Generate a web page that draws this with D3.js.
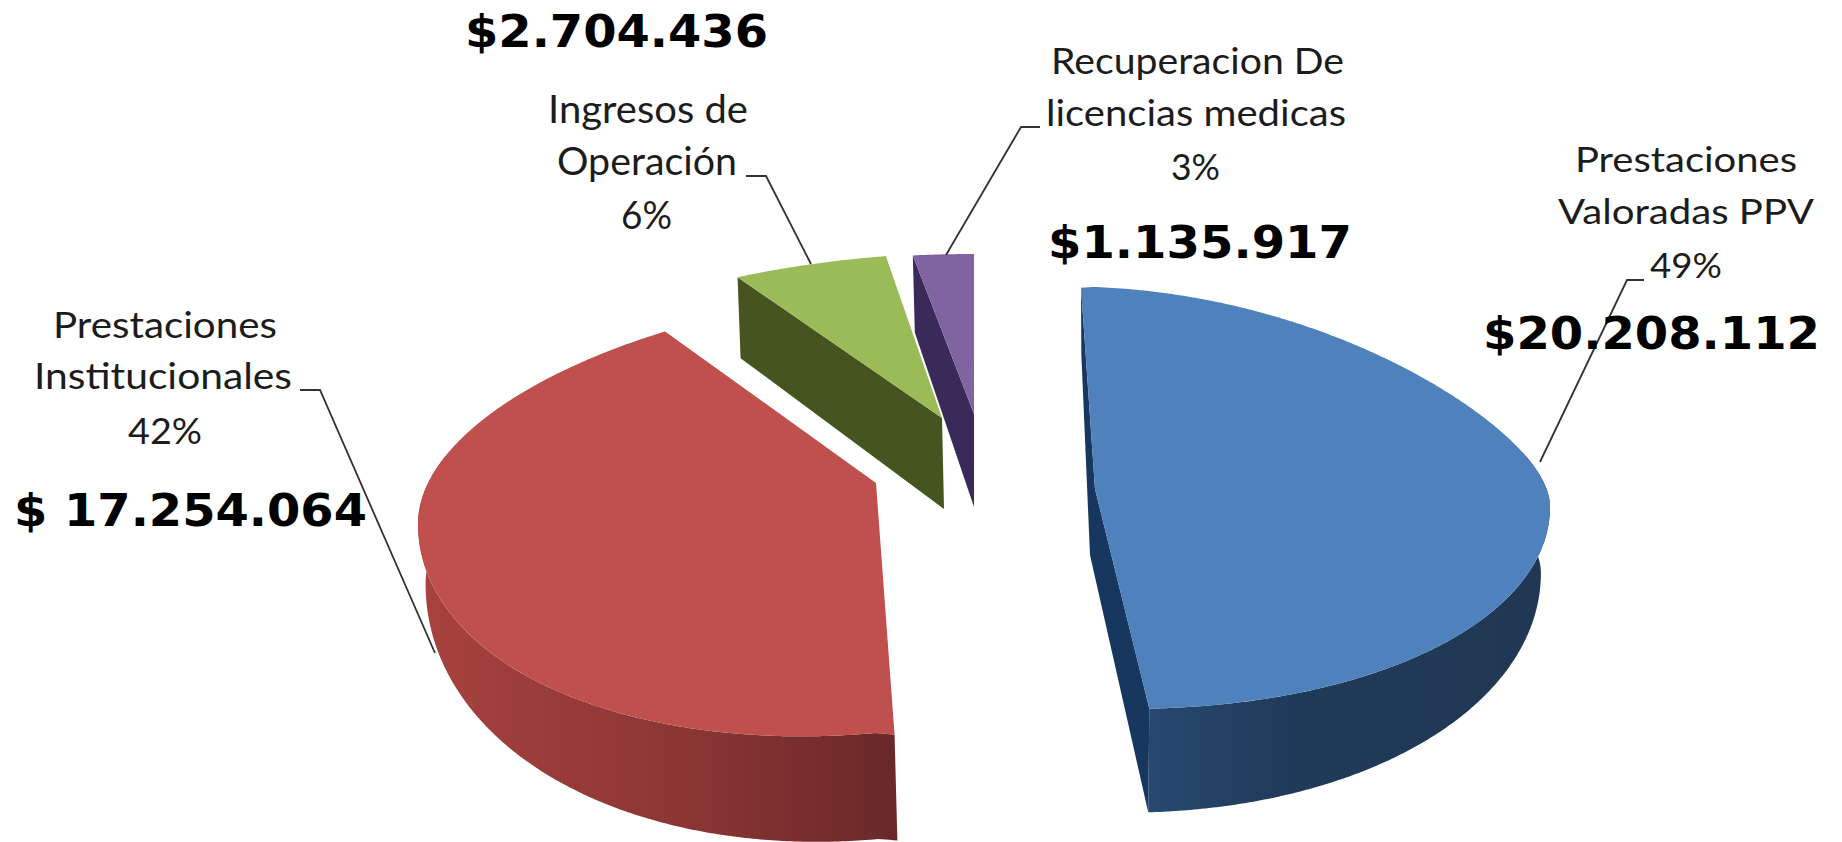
<!DOCTYPE html>
<html>
<head>
<meta charset="utf-8">
<script src="https://cdnjs.cloudflare.com/ajax/libs/d3/7.8.5/d3.min.js"></script>
<style>
html,body{margin:0;padding:0;background:#fff}
svg{display:block}
</style>
</head>
<body>
<svg id="c" width="1842" height="842"></svg>
<script>
// ---- data ----
const categories = ["Prestaciones Valoradas PPV", "Prestaciones Institucionales", "Ingresos de Operación", "Recuperacion De licencias medicas"];
const values = [20208112, 17254064, 2704436, 1135917];
const percentLabels = ["49%", "42%", "6%", "3%"];
const valueLabels = ["$20.208.112", "$ 17.254.064", "$2.704.436", "$1.135.917"];
const nameLines = [["Prestaciones", "Valoradas PPV"], ["Prestaciones", "Institucionales"], ["Ingresos de", "Operación"], ["Recuperacion De", "licencias medicas"]];

// ---- styling ----
const topColors = ["#4f81bd", "#c0504d", "#9bbb59", "#8064a2"];
const innerWallColors = ["#17375e", "#7a2c2a", "#46541f", "#3a2a59"];
const outerWallStops = [
  [["0%", "#27496f"], ["35%", "#203a5a"], ["100%", "#203852"]],
  [["0%", "#a8423e"], ["55%", "#8b3634"], ["100%", "#692828"]],
  [["0%", "#46541f"], ["100%", "#46541f"]],
  [["0%", "#3a2a59"], ["100%", "#3a2a59"]]
];

// ---- 3D view of each exploded slice ----
const views = [
  {rot: 0,    stretch: .993, cx: 1095, cy: 489, rx: 455, up: 202, down: 219, drop: 18, flat: .3, back: 66, front: 104, rimScale: .98, shift: 0, apexX: -5, apexD: 66, walls: "both"},
  {rot: 3.3,  stretch: 1.03, cx: 876,  cy: 483, rx: 458, up: 192, down: 250, drop: 41, flat: 0,  back: 60, front: 106, rimScale: .99, shift: 3, apexX: 0,  apexD: 70, walls: "none"},
  {rot: 8.6,  stretch: .83,  cx: 942,  cy: 418, rx: 456, up: 165, down: 165, drop: 15, flat: 0,  back: 81, front: 81,  rimScale: 1,   shift: 3, apexX: 2,  apexD: 91, walls: "start"},
  {rot: 3.95, stretch: .78,  cx: 974,  cy: 414, rx: 456, up: 160, down: 160, drop: 0,  flat: 0,  back: 77, front: 77,  rimScale: 1,   shift: 2, apexX: 0,  apexD: 93, walls: "start"}
];
const drawOrder = [3, 2, 1, 0];

// ---- labels: [x start, baseline, width] per line, name lines then percent ----
const labelFonts = [35, 37, 38, 37];
const labelBoxes = [
  [[1575, 172, 222], [1558, 224, 256], [1650, 278, 72]],
  [[53, 338, 224], [34, 389, 258], [128, 444, 74]],
  [[548, 123, 200], [557, 175, 180], [621, 229, 51]],
  [[1051, 74, 293], [1046, 126, 300], [1171, 180, 49]]
];
const valueBoxes = [[1483, 349, 337], [14, 526, 353], [465, 47, 303], [1048, 258, 304]];
const leaders = [
  [[1644, 280], [1627, 280], [1540, 462]],
  [[300, 390], [320, 390], [435, 653]],
  [[746, 176], [766, 176], [811, 264]],
  [[1040, 127], [1021, 127], [946, 255]]
];

const svg = d3.select("#c");
const defs = svg.append("defs");

const pie = d3.pie().sort(null)
  .startAngle(-1.76 * Math.PI / 180)
  .endAngle((360 - 1.76) * Math.PI / 180);
const arcs = pie(values);

const line = d3.line();

function screenAngles(d, i) {
  const v = views[i];
  const a0 = d.startAngle + v.rot * Math.PI / 180;
  const a1 = a0 + (d.endAngle - d.startAngle) * v.stretch;
  return [a0, a1];
}
function topPoint(v, t) {
  const s = Math.sin(t), c = Math.cos(t);
  const rise = c > 0 ? v.up * c * ((1 - v.flat) + v.flat * Math.pow(c, 1.3)) : v.down * c;
  return [v.cx + v.rx * s, v.cy + v.drop * Math.abs(s) - rise];
}
function bottomPoint(v, t) {
  const s = Math.sin(t), c = Math.cos(t);
  const top = topPoint(v, t);
  return [v.cx + v.shift + v.rx * v.rimScale * s, top[1] + v.back + (v.front - v.back) * Math.max(0, -c)];
}
function sample(a0, a1) {
  const n = Math.max(2, Math.ceil(Math.abs(a1 - a0) / (Math.PI / 360)));
  return d3.range(n + 1).map(k => a0 + (a1 - a0) * k / n);
}

const gSlices = svg.append("g");
const gLeaders = svg.append("g");
const gText = svg.append("g");

drawOrder.forEach(i => {
  const d = arcs[i], v = views[i];
  const [a0, a1] = screenAngles(d, i);

  const gradId = "wall" + i;
  const grad = defs.append("linearGradient").attr("id", gradId)
    .attr("x1", "0%").attr("x2", "100%").attr("y1", "0%").attr("y2", "0%");
  outerWallStops[i].forEach(st => grad.append("stop").attr("offset", st[0]).attr("stop-color", st[1]));

  const g = gSlices.append("g").attr("class", "slice");

  // outer wall
  const wa = Math.max(a0, Math.PI * 70 / 180), wb = Math.min(a1, Math.PI * 290 / 180);
  if (wb > wa) {
    const ts = sample(wa, wb);
    const pts = ts.map(t => topPoint(v, t)).concat(ts.slice().reverse().map(t => bottomPoint(v, t)));
    g.append("path").attr("d", line(pts) + "Z").attr("fill", "url(#" + gradId + ")");
  }

  // inner walls
  const apex = [v.cx, v.cy], apexB = [v.cx + v.apexX, v.cy + v.apexD];
  if (v.walls === "both") {
    const pts = [topPoint(v, a0), bottomPoint(v, a0), apexB, bottomPoint(v, a1), topPoint(v, a1), apex];
    g.append("path").attr("d", line(pts) + "Z").attr("fill", innerWallColors[i]);
  } else if (v.walls === "start") {
    const pts = [topPoint(v, a0), bottomPoint(v, a0), apexB, apex];
    g.append("path").attr("d", line(pts) + "Z").attr("fill", innerWallColors[i]);
  }

  // top face
  const rim = sample(a0, a1).map(t => topPoint(v, t));
  g.append("path").attr("d", line([apex].concat(rim)) + "Z").attr("fill", topColors[i]);
});

leaders.forEach(l => {
  gLeaders.append("path").attr("d", line(l)).attr("fill", "none")
    .attr("stroke", "#333").attr("stroke-width", 1.8);
});

function fitted(x, y, w, size, str, family, weight, fill) {
  gText.append("text").attr("x", x).attr("y", y)
    .attr("font-family", family).attr("font-size", size).attr("font-weight", weight)
    .attr("fill", fill)
    .attr("textLength", w).attr("lengthAdjust", "spacingAndGlyphs")
    .text(str);
}

categories.forEach((c, i) => {
  const lines = nameLines[i].concat([percentLabels[i]]);
  lines.forEach((str, k) => {
    const b = labelBoxes[i][k];
    fitted(b[0], b[1], b[2], labelFonts[i], str, "Lato,'Liberation Sans',sans-serif", 400, "#1c1c1c");
  });
  const vb = valueBoxes[i];
  fitted(vb[0], vb[1], vb[2], 45, valueLabels[i], "'DejaVu Sans',sans-serif", 700, "#000");
});
</script>
</body>
</html>
